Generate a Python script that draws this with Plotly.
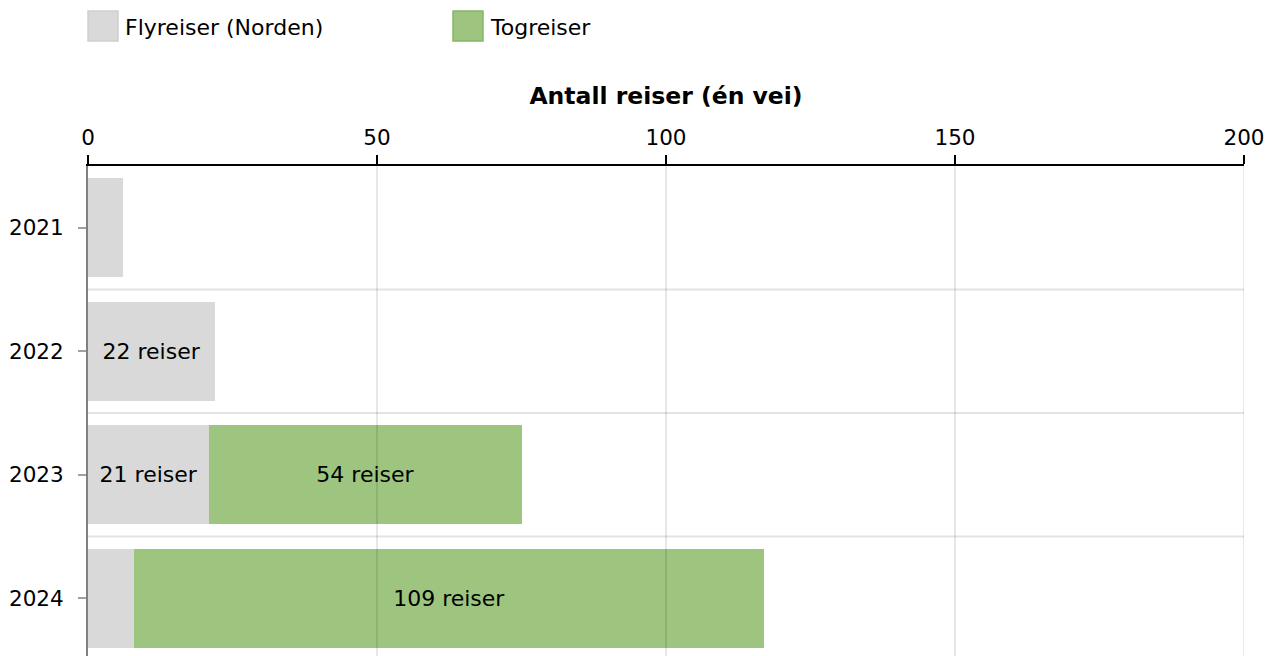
import plotly.graph_objects as go

# ---- data ----
years = ["2021", "2022", "2023", "2024"]
fly_name = "Flyreiser (Norden)"
tog_name = "Togreiser"
fly_values = [6, 22, 21, 8]
tog_values = [0, 0, 54, 109]
x_ticks = [0, 50, 100, 150, 200]
x_title = "Antall reiser (én vei)"

FONT = "DejaVu Sans"
GREY = "#d9d9d9"
GREEN = "#9dc57f"

# page body offset (default 8px margin) is compensated here
OFF = 8
W, H = 1273 - OFF, 656 - OFF
ML, MR, MT, MB = 88 - OFF, 29, 166 - OFF, 0
PW, PH = W - ML - MR, H - MT - MB
BAND = 123.5  # px per category


def px_x(px):
    return (px - OFF - ML) / PW


def px_y(py):
    return (H - MB - (py - OFF)) / PH


fig = go.Figure()
for vals, name, col in [(fly_values, fly_name, GREY), (tog_values, tog_name, GREEN)]:
    fig.add_trace(go.Bar(
        y=years, x=vals, name=name, orientation="h",
        marker=dict(color=col, line=dict(width=0)),
        texttemplate="%{x} reiser", textposition="inside", insidetextanchor="middle",
        textangle=0,
        textfont=dict(color="black", size=22, family=FONT),
        showlegend=False,
    ))

shapes = []
# vertical gridlines drawn above bars
for v in x_ticks[1:]:
    shapes.append(dict(type="line", xref="x", yref="paper", x0=v, x1=v, y0=0, y1=1,
                       line=dict(color="rgba(0,0,0,0.13)", width=1.5), layer="above"))
# horizontal gridlines at category boundaries
for i in range(len(years) - 1):
    shapes.append(dict(type="line", xref="paper", yref="y", x0=0, x1=1, y0=i + 0.5, y1=i + 0.5,
                       line=dict(color="#e3e3e3", width=2), layer="below"))

# custom legend (large square swatches)
legend_items = [(fly_name, GREY, "#cfcfcf", 88), (tog_name, GREEN, "#84b866", 453)]
annotations = []
for name, fill, border, left in legend_items:
    shapes.append(dict(type="rect", xref="paper", yref="paper",
                       x0=px_x(left), x1=px_x(left + 30), y0=px_y(41), y1=px_y(11),
                       fillcolor=fill, line=dict(color=border, width=1.5)))
    annotations.append(dict(xref="paper", yref="paper", x=px_x(left + 35), y=px_y(28),
                            text=name, showarrow=False, xanchor="left", yanchor="middle",
                            font=dict(size=22, family=FONT, color="black")))

fig.update_layout(
    width=W, height=H,
    margin=dict(l=ML, r=MR, t=MT, b=MB, autoexpand=False),
    barmode="stack", bargap=0.2,
    plot_bgcolor="white", paper_bgcolor="white",
    font=dict(family=FONT, size=21.5, color="black"),
    uniformtext=dict(mode="hide", minsize=22),
    shapes=shapes, annotations=annotations,
    showlegend=False,
    xaxis=dict(
        side="top", range=[0, 200], tickvals=x_ticks, showgrid=False, zeroline=False,
        showline=True, linecolor="black", linewidth=1.5,
        ticks="outside", ticklen=9, tickwidth=1.5, tickcolor="black",
        tickfont=dict(size=21.5, family=FONT), automargin=False,
        ticklabelstandoff=2,
        title=dict(text="<b>" + x_title + "</b>", font=dict(size=23.5, family=FONT), standoff=13),
    ),
    yaxis=dict(
        type="category", categoryorder="array", categoryarray=years,
        range=[-0.5 + PH / BAND, -0.5], autorange=False, showgrid=False, zeroline=False,
        showline=True, linecolor="#808080", linewidth=2,
        ticks="outside", ticklen=8, tickwidth=1.5, tickcolor="#a0a0a0",
        tickfont=dict(size=21.5, family=FONT), automargin=False,
        ticklabelstandoff=10,
    ),
)

fig.write_html("out.html")
